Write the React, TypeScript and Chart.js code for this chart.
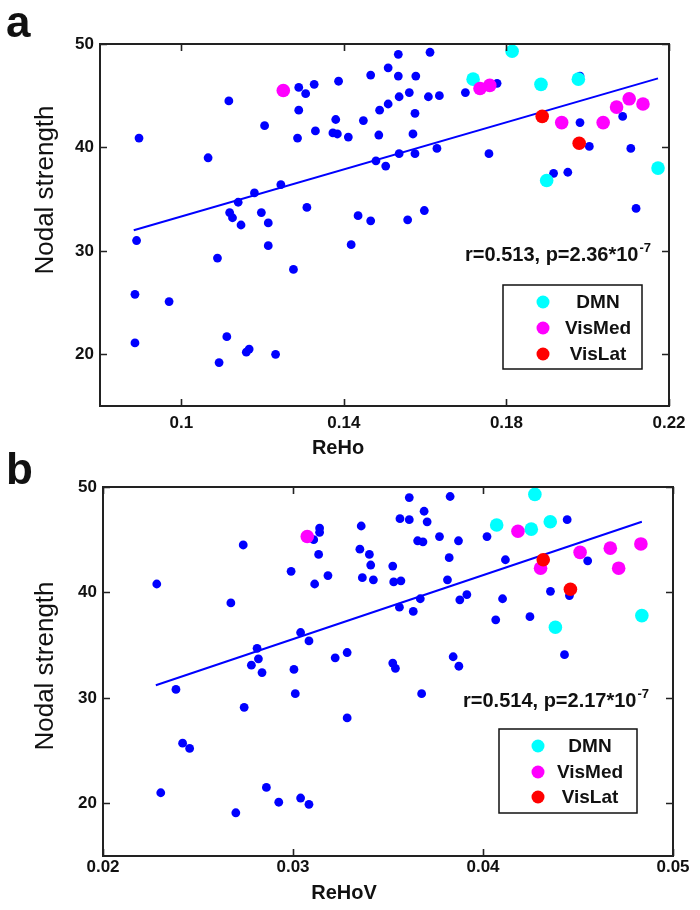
import React, { useEffect, useRef } from 'react';
import { Chart, registerables } from 'chart.js';
Chart.register(...registerables);

// ---------- Panel a (ReHo) ----------
const rehoBlueX = [0.0896, 0.1117, 0.1066, 0.1205, 0.1289, 0.1306, 0.1327, 0.1289, 0.1286, 0.1330, 0.1380, 0.1373, 0.1384, 0.1411, 0.1387, 0.1448, 0.1466, 0.1488, 0.1486, 0.1509, 0.1509, 0.1534, 0.1534, 0.1536, 0.1536, 0.1479, 0.1503, 0.1245, 0.1180, 0.1140, 0.1119, 0.1126, 0.1197, 0.1309, 0.1435, 0.1466, 0.1147, 0.1214, 0.1214, 0.0890, 0.1089, 0.1276, 0.1418, 0.0886, 0.0970, 0.0886, 0.1112, 0.1093, 0.1160, 0.1167, 0.1232, 0.1557, 0.1598, 0.2119, 0.1612, 0.1577, 0.1561, 0.1608, 0.1635, 0.1699, 0.1777, 0.1575, 0.1570, 0.1575, 0.1629, 0.1757, 0.1981, 0.1981, 0.2086, 0.2004, 0.2106, 0.1916, 0.1951];
const rehoBlueY = [40.9, 44.5, 39.0, 42.1, 45.8, 45.2, 46.1, 43.6, 40.9, 41.6, 42.7, 41.4, 41.3, 41.0, 46.4, 42.6, 47.0, 43.6, 41.2, 47.7, 44.2, 49.0, 46.9, 44.9, 39.4, 38.7, 38.2, 36.4, 35.6, 34.7, 33.7, 33.2, 33.7, 34.2, 33.4, 32.9, 32.5, 32.7, 30.5, 31.0, 29.3, 28.2, 30.6, 25.8, 25.1, 21.1, 21.7, 19.2, 20.2, 20.5, 20.0, 33.0, 33.9, 34.1, 49.2, 46.9, 45.3, 44.9, 45.0, 45.3, 46.2, 43.3, 41.3, 39.4, 39.9, 39.4, 46.9, 42.4, 43.0, 40.1, 39.9, 37.5, 37.6];
const rehoDmnX = [0.1814, 0.1718, 0.1885, 0.1977, 0.1899, 0.2173];
const rehoDmnY = [49.3, 46.6, 46.1, 46.6, 36.8, 38.0];
const rehoVisMedX = [0.1251, 0.1735, 0.1759, 0.1936, 0.2038, 0.2071, 0.2102, 0.2136];
const rehoVisMedY = [45.5, 45.7, 46.0, 42.4, 42.4, 43.9, 44.7, 44.2];
const rehoVisLatX = [0.1888, 0.1979];
const rehoVisLatY = [43.0, 40.4];
const rehoFitX = [0.0883, 0.2173];
const rehoFitY = [32.0, 46.68];
const rehoTicks = [0.1, 0.14, 0.18, 0.22];
const rehoTickLabels = ['0.1', '0.14', '0.18', '0.22'];
const rehoStat = 'r=0.513, p=2.36*10';
const rehoStatExp = '-7';

// ---------- Panel b (ReHoV) ----------
const rehovBlueX = [0.02283, 0.02738, 0.02673, 0.02990, 0.03109, 0.03140, 0.03140, 0.03135, 0.03114, 0.03184, 0.03359, 0.03352, 0.03402, 0.03409, 0.03365, 0.03423, 0.03525, 0.03530, 0.03563, 0.03560, 0.03040, 0.03084, 0.02811, 0.02818, 0.03222, 0.03285, 0.02781, 0.02837, 0.03005, 0.03012, 0.03525, 0.03539, 0.02384, 0.02743, 0.03285, 0.02419, 0.02456, 0.02304, 0.02860, 0.02699, 0.02925, 0.03040, 0.03084, 0.03843, 0.03873, 0.04429, 0.03677, 0.03612, 0.03827, 0.03612, 0.03690, 0.03706, 0.03656, 0.03684, 0.03771, 0.03871, 0.04021, 0.04443, 0.03822, 0.04118, 0.03568, 0.03813, 0.04551, 0.04355, 0.04455, 0.03915, 0.03878, 0.03670, 0.03633, 0.04103, 0.04067, 0.04247];
const rehovBlueY = [40.8, 44.5, 39.0, 42.0, 45.0, 46.1, 45.7, 43.6, 40.8, 41.6, 46.3, 44.1, 43.6, 42.6, 41.4, 41.2, 42.5, 41.0, 47.0, 38.6, 36.2, 35.4, 34.7, 33.7, 33.8, 34.3, 33.1, 32.4, 32.7, 30.4, 33.3, 32.8, 30.8, 29.1, 28.1, 25.7, 25.2, 21.0, 21.5, 19.1, 20.1, 20.5, 19.9, 33.9, 33.0, 34.1, 30.4, 49.0, 49.1, 46.9, 47.7, 46.7, 44.9, 44.8, 45.3, 44.9, 45.3, 46.9, 43.3, 43.1, 41.1, 41.2, 43.0, 40.1, 39.7, 39.8, 39.3, 39.4, 38.2, 39.4, 37.4, 37.7];
const rehovDmnX = [0.04273, 0.04072, 0.04254, 0.04354, 0.04381, 0.04836];
const rehovDmnY = [49.3, 46.4, 46.0, 46.7, 36.7, 37.8];
const rehovVisMedX = [0.03075, 0.04184, 0.04511, 0.04670, 0.04831, 0.04303, 0.04714];
const rehovVisMedY = [45.3, 45.8, 43.8, 44.2, 44.6, 42.3, 42.3];
const rehovVisLatX = [0.04317, 0.04460];
const rehovVisLatY = [43.1, 40.3];
const rehovFitX = [0.02278, 0.04836];
const rehovFitY = [31.2, 46.7];
const rehovTicks = [0.02, 0.03, 0.04, 0.05];
const rehovTickLabels = ['0.02', '0.03', '0.04', '0.05'];
const rehovStat = 'r=0.514, p=2.17*10';
const rehovStatExp = '-7';

// ---------- shared ----------
const strengthTicks = [20, 30, 40, 50];
const strengthTickLabels = ['20', '30', '40', '50'];
const groupNames = ['DMN', 'VisMed', 'VisLat'];
const yTitle = 'Nodal strength';

const BLUE = '#0000ff';
const CYAN = '#00ffff';
const MAGENTA = '#ff00ff';
const RED = '#ff0000';
const groupColors = [CYAN, MAGENTA, RED];
const FONT = '"Liberation Sans", Arial, Helvetica, sans-serif';

const pts = (xs: number[], ys: number[]) => xs.map((x, i) => ({ x, y: ys[i] }));

type PanelCfg = {
  letter: string;
  xTitle: string;
  blue: [number[], number[]];
  dmn: [number[], number[]];
  visMed: [number[], number[]];
  visLat: [number[], number[]];
  fit: [number[], number[]];
  xMin: number;
  xMax: number;
  xTicks: number[];
  xTickLabels: string[];
  stat: string;
  statExp: string;
  // layout
  width: number;
  height: number;
  top: number;
  padTop: number;
  padRight: number;
  yAxisW: number;
  xAxisH: number;
  xTickPad: number;
  letterPos: [number, number];
  yTitlePos: [number, number];
  xTitlePos: [number, number];
  statPos: [number, number];
  legendBox: [number, number, number, number];
  legendMarkerX: number;
  legendTextX: number;
  legendRows: number[];
};

const panels: PanelCfg[] = [
  {
    letter: 'a', xTitle: 'ReHo',
    blue: [rehoBlueX, rehoBlueY], dmn: [rehoDmnX, rehoDmnY], visMed: [rehoVisMedX, rehoVisMedY], visLat: [rehoVisLatX, rehoVisLatY], fit: [rehoFitX, rehoFitY],
    xMin: 0.08, xMax: 0.22, xTicks: rehoTicks, xTickLabels: rehoTickLabels, stat: rehoStat, statExp: rehoStatExp,
    width: 700, height: 460, top: 0, padTop: 44, padRight: 31, yAxisW: 100, xAxisH: 54, xTickPad: 7,
    letterPos: [6, 37], yTitlePos: [46, 190], xTitlePos: [338, 448], statPos: [465, 261],
    legendBox: [503, 285, 139, 84], legendMarkerX: 543, legendTextX: 598, legendRows: [302, 328, 354],
  },
  {
    letter: 'b', xTitle: 'ReHoV',
    blue: [rehovBlueX, rehovBlueY], dmn: [rehovDmnX, rehovDmnY], visMed: [rehovVisMedX, rehovVisMedY], visLat: [rehovVisLatX, rehovVisLatY], fit: [rehovFitX, rehovFitY],
    xMin: 0.02, xMax: 0.05, xTicks: rehovTicks, xTickLabels: rehovTickLabels, stat: rehovStat, statExp: rehovStatExp,
    width: 700, height: 465, top: 445, padTop: 42, padRight: 27, yAxisW: 103, xAxisH: 54, xTickPad: 1,
    letterPos: [6, 39], yTitlePos: [46, 221], xTitlePos: [344, 448], statPos: [463, 262],
    legendBox: [499, 284, 138, 84], legendMarkerX: 538, legendTextX: 590, legendRows: [301, 327, 352],
  },
];

function makeDecor(p: PanelCfg) {
  return {
    id: 'decor' + p.letter,
    afterDraw(chart: any) {
      const { ctx, chartArea: ca, scales } = chart;
      const xs = scales.x;
      const ys = scales.y;
      ctx.save();
      // box
      ctx.strokeStyle = '#222';
      ctx.lineWidth = 2;
      ctx.strokeRect(ca.left, ca.top, ca.right - ca.left, ca.bottom - ca.top);
      // inward ticks
      ctx.lineWidth = 1.6;
      ctx.beginPath();
      const tl = 7;
      p.xTicks.forEach((v) => {
        const px = Math.round(xs.getPixelForValue(v)) + 0.5;
        ctx.moveTo(px, ca.bottom); ctx.lineTo(px, ca.bottom - tl);
        ctx.moveTo(px, ca.top); ctx.lineTo(px, ca.top + tl);
      });
      strengthTicks.forEach((v) => {
        const py = Math.round(ys.getPixelForValue(v)) + 0.5;
        ctx.moveTo(ca.left, py); ctx.lineTo(ca.left + tl, py);
        ctx.moveTo(ca.right, py); ctx.lineTo(ca.right - tl, py);
      });
      ctx.stroke();

      ctx.fillStyle = '#111';
      // panel letter
      ctx.font = `bold 44px ${FONT}`;
      ctx.textAlign = 'left';
      ctx.textBaseline = 'alphabetic';
      ctx.fillText(p.letter, p.letterPos[0], p.letterPos[1]);

      // y title
      ctx.save();
      ctx.translate(p.yTitlePos[0], p.yTitlePos[1]);
      ctx.rotate(-Math.PI / 2);
      ctx.font = `26px ${FONT}`;
      ctx.textAlign = 'center';
      ctx.textBaseline = 'middle';
      ctx.fillText(yTitle, 0, 0);
      ctx.restore();

      // x title
      ctx.font = `bold 20px ${FONT}`;
      ctx.textAlign = 'center';
      ctx.textBaseline = 'middle';
      ctx.fillText(p.xTitle, p.xTitlePos[0], p.xTitlePos[1]);

      // stat annotation
      ctx.font = `bold 20px ${FONT}`;
      ctx.textAlign = 'left';
      ctx.textBaseline = 'alphabetic';
      ctx.fillText(p.stat, p.statPos[0], p.statPos[1]);
      const w = ctx.measureText(p.stat).width;
      ctx.font = `bold 13px ${FONT}`;
      ctx.fillText(p.statExp, p.statPos[0] + w + 1, p.statPos[1] - 9);

      // legend
      const [bx, by, bw, bh] = p.legendBox;
      ctx.fillStyle = '#fff';
      ctx.fillRect(bx, by, bw, bh);
      ctx.strokeStyle = '#111';
      ctx.lineWidth = 1.5;
      ctx.strokeRect(bx, by, bw, bh);
      groupNames.forEach((name, i) => {
        const ry = p.legendRows[i];
        ctx.beginPath();
        ctx.fillStyle = groupColors[i];
        ctx.arc(p.legendMarkerX, ry, 6.5, 0, Math.PI * 2);
        ctx.fill();
        ctx.fillStyle = '#111';
        ctx.font = `bold 19px ${FONT}`;
        ctx.textAlign = 'center';
        ctx.textBaseline = 'middle';
        ctx.fillText(name, p.legendTextX, ry + 1);
      });
      ctx.restore();
    },
  };
}

function Panel({ p }: { p: PanelCfg }) {
  const ref = useRef<HTMLCanvasElement | null>(null);
  useEffect(() => {
    if (!ref.current) return;
    const tickFont = { family: FONT, size: 17, weight: 'bold' as const };
    const chart = new Chart(ref.current, {
      type: 'scatter',
      data: {
        datasets: [
          { label: groupNames[2], data: pts(p.visLat[0], p.visLat[1]), backgroundColor: RED, borderColor: RED, pointRadius: 6.8, borderWidth: 0, order: 1 },
          { label: groupNames[1], data: pts(p.visMed[0], p.visMed[1]), backgroundColor: MAGENTA, borderColor: MAGENTA, pointRadius: 6.8, borderWidth: 0, order: 2 },
          { label: groupNames[0], data: pts(p.dmn[0], p.dmn[1]), backgroundColor: CYAN, borderColor: CYAN, pointRadius: 6.8, borderWidth: 0, order: 3 },
          { type: 'line' as const, label: 'fit', data: pts(p.fit[0], p.fit[1]), borderColor: BLUE, borderWidth: 2, pointRadius: 0, fill: false, order: 4 },
          { label: 'nodes', data: pts(p.blue[0], p.blue[1]), backgroundColor: BLUE, borderColor: BLUE, pointRadius: 4.4, borderWidth: 0, order: 5 },
        ] as any,
      },
      options: {
        animation: false,
        responsive: false,
        devicePixelRatio: 1,
        clip: false as any,
        layout: { padding: { top: p.padTop, right: p.padRight, left: 0, bottom: 0 } },
        plugins: { legend: { display: false }, tooltip: { enabled: false } },
        scales: {
          x: {
            type: 'linear',
            min: p.xMin,
            max: p.xMax,
            grid: { display: false, drawTicks: false },
            border: { display: false },
            ticks: {
              font: tickFont, color: '#111', padding: p.xTickPad, autoSkip: false, maxRotation: 0,
              callback: (_v: any, i: number) => p.xTickLabels[i],
            },
            afterBuildTicks: (s: any) => { s.ticks = p.xTicks.map((v) => ({ value: v })); },
            afterFit: (s: any) => { s.height = p.xAxisH; },
          },
          y: {
            type: 'linear',
            min: 15,
            max: 50,
            grid: { display: false, drawTicks: false },
            border: { display: false },
            ticks: {
              font: tickFont, color: '#111', padding: 6, autoSkip: false,
              callback: (_v: any, i: number) => strengthTickLabels[i],
            },
            afterBuildTicks: (s: any) => { s.ticks = strengthTicks.map((v) => ({ value: v })); },
            afterFit: (s: any) => { s.width = p.yAxisW; },
          },
        },
      },
      plugins: [makeDecor(p)],
    });
    return () => chart.destroy();
  }, [p]);
  return (
    <canvas
      ref={ref}
      width={p.width}
      height={p.height}
      style={{ position: 'absolute', left: 0, top: p.top, width: p.width, height: p.height }}
    />
  );
}

export default function App() {
  return (
    <div style={{ position: 'absolute', left: 0, top: 0, width: 700, height: 910, background: '#fff' }}>
      {panels.map((p) => (
        <Panel key={p.letter} p={p} />
      ))}
    </div>
  );
}
